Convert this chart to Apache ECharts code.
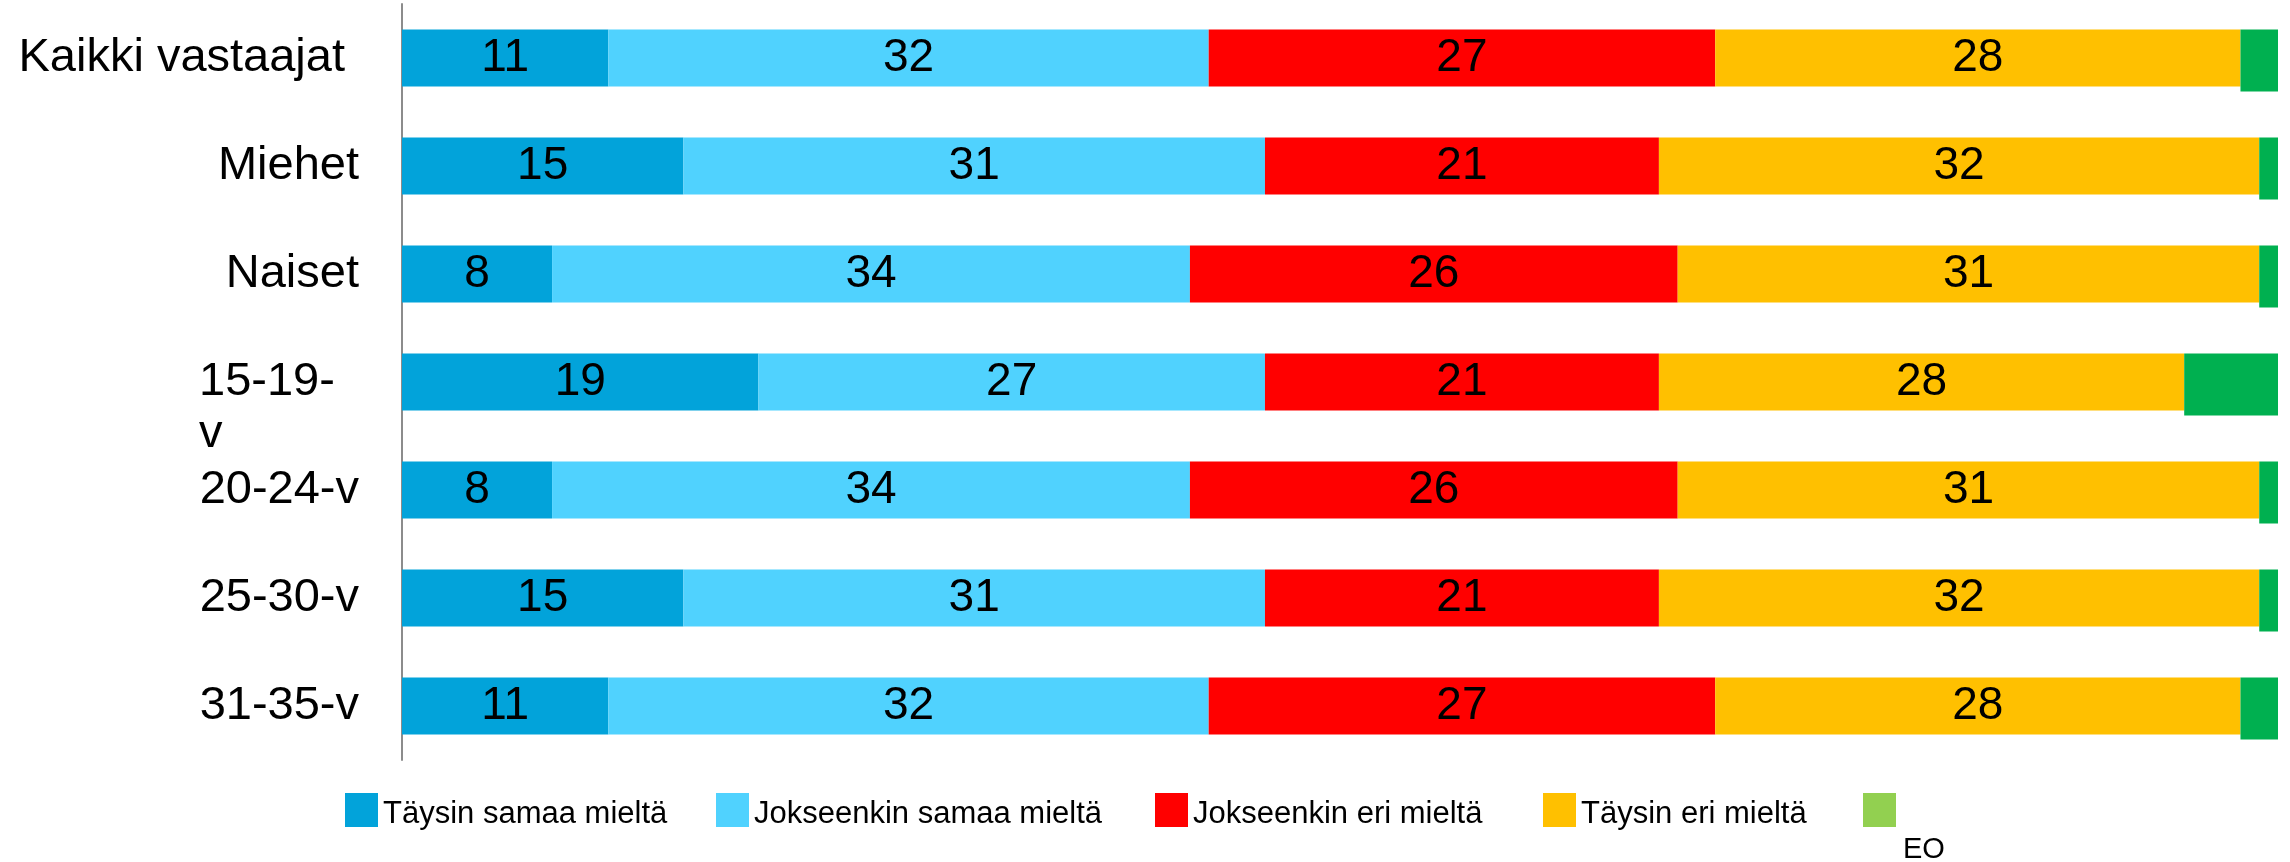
<!DOCTYPE html>
<html>
<head>
<meta charset="utf-8">
<script src="https://cdn.jsdelivr.net/npm/echarts@6/dist/echarts.min.js"></script>
<style>
  html, body { margin: 0; padding: 0; background: #fff; }
  #chart { width: 2290px; height: 862px; }
</style>
</head>
<body>
<div id="chart"></div>
<script>
// vastaajaryhmät ja osuudet (%)
const categories = ['Kaikki vastaajat', 'Miehet', 'Naiset', '15-19-v', '20-24-v', '25-30-v', '31-35-v']
const seriesNames = ['Täysin samaa mieltä', 'Jokseenkin samaa mieltä', 'Jokseenkin eri mieltä', 'Täysin eri mieltä', 'EO']
const taysinSamaa = [11, 15, 8, 19, 8, 15, 11]
const jokseenkinSamaa = [32, 31, 34, 27, 34, 31, 32]
const jokseenkinEri = [27, 21, 26, 21, 26, 21, 27]
const taysinEri = [28, 32, 31, 28, 31, 32, 28]
const eo = [2, 1, 1, 5, 1, 1, 2]

const colors = ['#02A3DA', '#50D2FE', '#FF0000', '#FFC000', '#00B050']
const font = 'Liberation Sans, Arial, sans-serif'

const chart = echarts.init(document.getElementById('chart'))

const mainSeries = [taysinSamaa, jokseenkinSamaa, jokseenkinEri, taysinEri].map((data, i) => ({
  name: seriesNames[i],
  type: 'bar',
  stack: 'total',
  xAxisIndex: 0,
  yAxisIndex: 0,
  barWidth: 57,
  itemStyle: { color: colors[i] },
  label: {
    show: true,
    position: 'inside',
    color: '#000',
    fontFamily: font,
    fontSize: 46,
  },
  data: data,
}))

// EO-palkki on hieman korkeampi, joten se piirretään omaan gridiin
const base = categories.map((c, i) => taysinSamaa[i] + jokseenkinSamaa[i] + jokseenkinEri[i] + taysinEri[i])

const legendPos = [345, 716, 1155, 1543, 1863]

const options = {
  animation: false,
  grid: [
    { left: 402, right: 12, top: 4, height: 756 },
    { left: 402, right: 12, top: 6.5, height: 756 },
  ],
  legend: seriesNames.map((name, i) => ({
    left: legendPos[i],
    top: 793,
    padding: 0,
    itemWidth: 33,
    itemHeight: 34,
    icon: 'rect',
    data: i === 4 ? [{ name: name, itemStyle: { color: '#92D050' } }] : [name],
    formatter: (n) => (n === 'EO' ? '{e|EO}' : '{t|' + n + '}'),
    textStyle: {
      color: '#000',
      fontFamily: font,
      fontSize: 31,
      rich: {
        t: { padding: [8, 0, 0, 0], fontSize: 31, fontFamily: font, color: '#000' },
        e: { padding: [80, 0, 0, 2], fontSize: 29, fontFamily: font, color: '#000' },
      },
    },
  })),
  xAxis: [
    { type: 'value', gridIndex: 0, min: 0, max: 100, show: false },
    { type: 'value', gridIndex: 1, min: 0, max: 100, show: false },
  ],
  yAxis: [
    {
      type: 'category',
      gridIndex: 0,
      inverse: true,
      data: categories,
      axisTick: { show: false },
      axisLine: { lineStyle: { color: '#8c8c8c', width: 2 } },
      axisLabel: {
        margin: 43,
        color: '#000',
        fontFamily: font,
        fontSize: 47,
        formatter: (v) => {
          if (v === '15-19-v') return '{w| }\n{w|15-19-}\n{w|v}'
          if (v === 'Kaikki vastaajat') return '{k|' + v + '}'
          return v
        },
        rich: {
          w: { width: 160, align: 'left', lineHeight: 52, fontSize: 47, fontFamily: font, color: '#000' },
          k: { padding: [0, 14, 0, 0], fontSize: 47, fontFamily: font, color: '#000' },
        },
      },
    },
    {
      type: 'category',
      gridIndex: 1,
      inverse: true,
      data: categories,
      show: false,
    },
  ],
  series: [
    ...mainSeries,
    {
      type: 'bar',
      stack: 'eo',
      xAxisIndex: 1,
      yAxisIndex: 1,
      barWidth: 62,
      silent: true,
      itemStyle: { color: 'rgba(0,0,0,0)' },
      data: base,
    },
    {
      name: 'EO',
      type: 'bar',
      stack: 'eo',
      xAxisIndex: 1,
      yAxisIndex: 1,
      barWidth: 62,
      itemStyle: { color: colors[4] },
      data: eo,
    },
  ],
}
chart.setOption(options)
</script>
</body>
</html>
